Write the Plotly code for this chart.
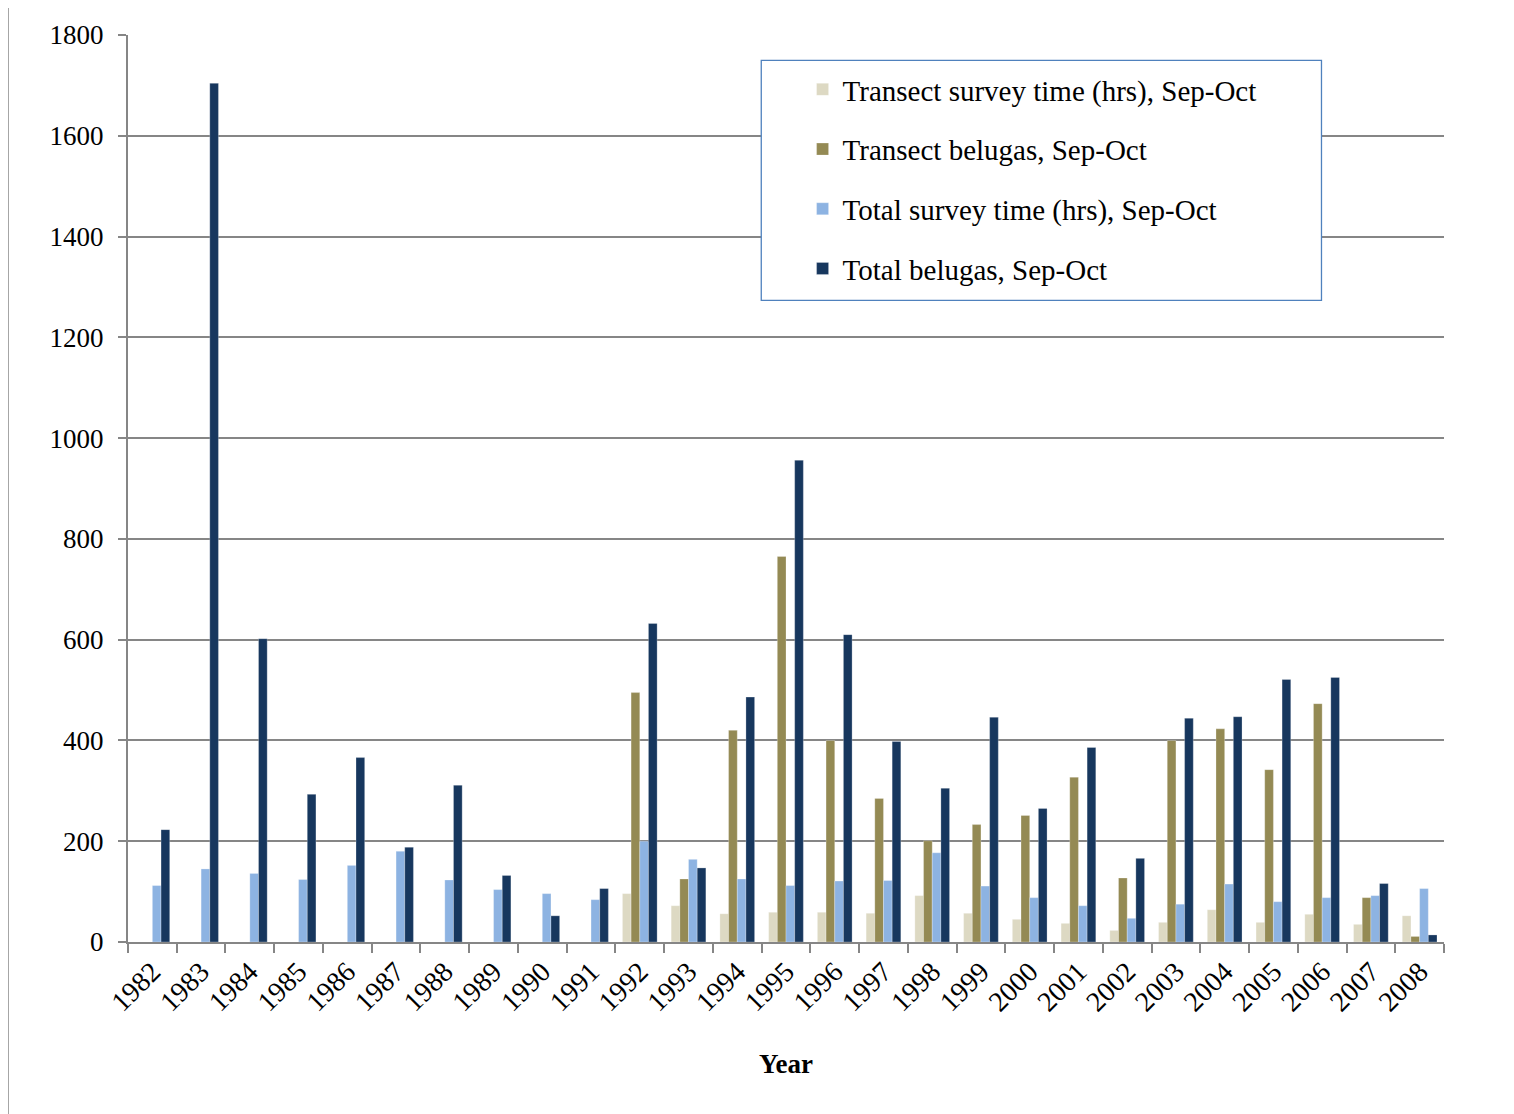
"""Beluga survey chart, Sep-Oct"""

import plotly.graph_objects as go

years = [str(y) for y in range(1982, 2009)]

# transect data only from 1992 on
transect_time = [None] * 10 + [96, 72, 56, 59, 59, 57, 92, 57, 45, 37, 23, 39, 64, 39, 55, 35, 52]
transect_belugas = [None] * 10 + [495, 125, 420, 765, 400, 285, 201, 233, 251, 327, 127, 400, 423, 342, 473, 88, 11]
total_time = [112, 145, 136, 124, 152, 180, 123, 104, 96, 84,
              200, 164, 125, 112, 121, 122, 177, 111, 88, 72, 47, 75, 115, 80, 88, 92, 106]
total_belugas = [223, 1704, 602, 293, 366, 188, 311, 132, 52, 106,
                 632, 147, 486, 956, 610, 398, 305, 446, 265, 386, 166, 444, 447, 521, 525, 116, 14]

series = [
    ("Transect survey time (hrs), Sep-Oct", transect_time, "#DDD9C3"),
    ("Transect belugas, Sep-Oct", transect_belugas, "#948A54"),
    ("Total survey time (hrs), Sep-Oct", total_time, "#8DB3E2"),
    ("Total belugas, Sep-Oct", total_belugas, "#17375E"),
]

FONT = "Liberation Serif"

fig = go.Figure()
for i, (name, vals, color) in enumerate(series):
    fig.add_trace(go.Bar(
        x=years,
        y=vals,
        name=name,
        legendgroup=f"g{i}",
        marker=dict(color=color, line=dict(color="rgba(255,255,255,0.5)", width=0.5)),
    ))

# legend box (white, blue border) drawn as a shape, legend sits on top
fig.add_shape(type="rect", xref="paper", yref="paper",
              x0=0.4812, x1=0.9069, y0=0.7074, y1=0.9721,
              fillcolor="white", line=dict(color="#4F81BD", width=1.3), layer="above")

# outer frame
fig.add_shape(type="rect", xref="paper", yref="paper",
              x0=-0.0912, x1=1.052, y0=-0.25, y1=1.0317,
              fillcolor="rgba(0,0,0,0)", line=dict(color="#868686", width=1.5), layer="below")

fig.add_annotation(text="<b>Year</b>", xref="paper", yref="paper", x=0.5, y=-0.134,
                   showarrow=False, font=dict(size=27, color="black", family=FONT),
                   xanchor="center", yanchor="middle")

fig.update_layout(
    width=1506,
    height=1106,
    margin=dict(l=120, r=70, t=27, b=172),
    paper_bgcolor="white",
    plot_bgcolor="white",
    font=dict(family=FONT, size=24, color="black"),
    barmode="group",
    bargap=0.288,
    bargroupgap=0,
    legend=dict(
        x=0.5126, y=0.968, xanchor="left", yanchor="top",
        bgcolor="rgba(0,0,0,0)", borderwidth=0,
        font=dict(size=29, family=FONT),
        tracegroupgap=19,
        itemwidth=30,
    ),
    xaxis=dict(
        type="category",
        showgrid=False,
        showline=True, linecolor="#868686", linewidth=2,
        ticks="outside", tickson="boundaries", ticklen=9, tickcolor="#868686", tickwidth=2,
        tickangle=-45,
        tickfont=dict(size=28, family=FONT),
    ),
    yaxis=dict(
        range=[0, 1800],
        dtick=200,
        showgrid=True, gridcolor="#868686", gridwidth=1.5,
        showline=True, linecolor="#868686", linewidth=2,
        ticks="outside", ticklen=8, tickcolor="#868686", tickwidth=2,
        ticklabelstandoff=9,
        tickfont=dict(size=27, family=FONT),
        zeroline=False,
    ),
    showlegend=True,
)

fig.write_html("out.html")
